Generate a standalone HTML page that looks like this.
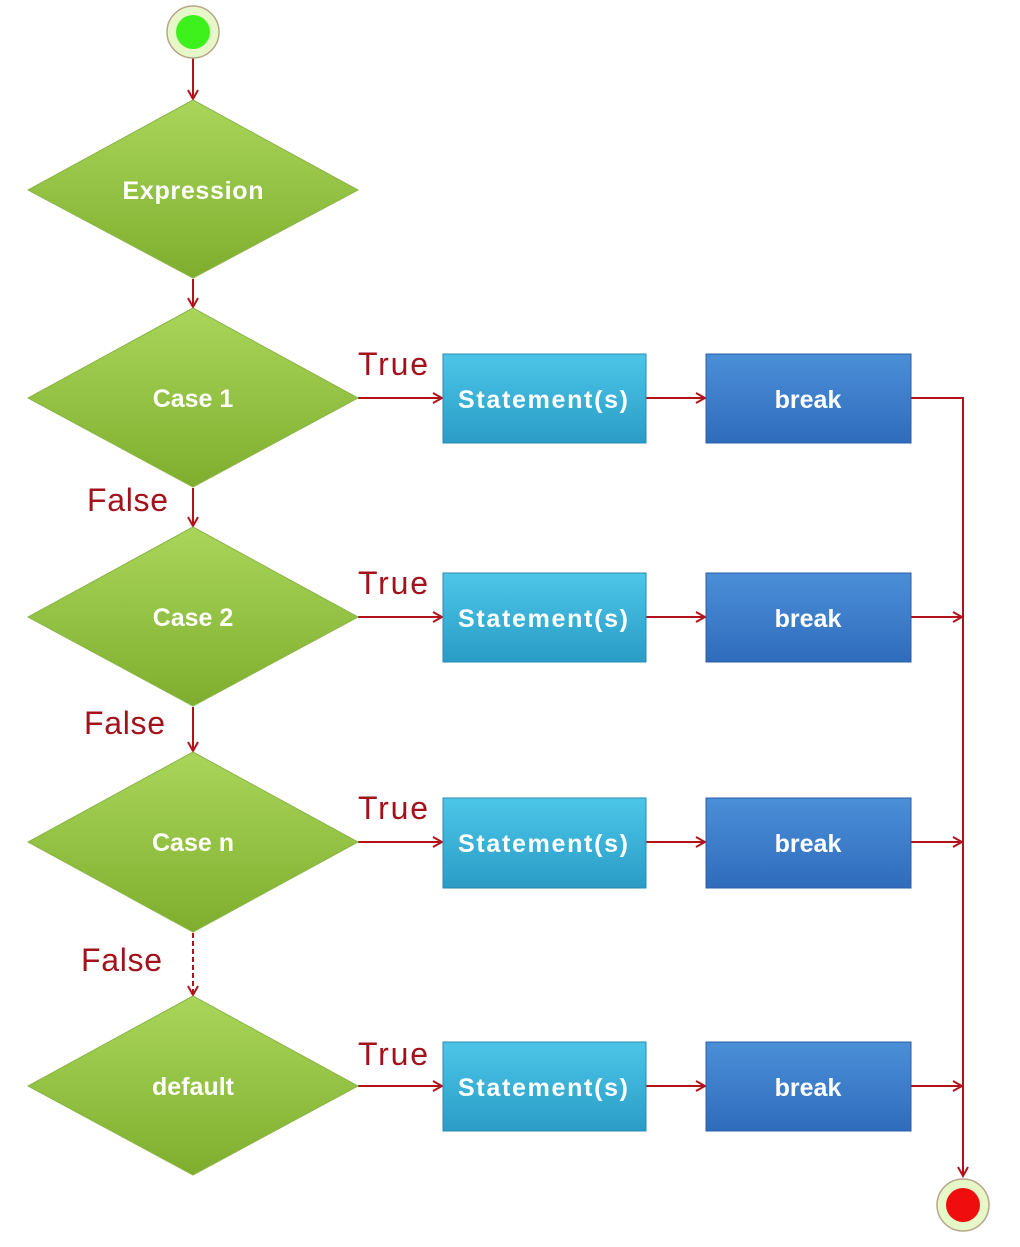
<!DOCTYPE html>
<html><head><meta charset="utf-8"><style>
html,body{margin:0;padding:0;background:#fff;}
svg{display:block;}
.t{font-family:"Liberation Sans",sans-serif;font-weight:bold;fill:#fff;font-size:25px;text-anchor:middle;}
.l{font-family:"Liberation Sans",sans-serif;fill:#a3121c;font-size:32px;}
</style></head><body>
<svg width="1020" height="1247" viewBox="0 0 1020 1247" xmlns="http://www.w3.org/2000/svg">
<defs>
<linearGradient id="g" x1="0" y1="0" x2="0" y2="1"><stop offset="0" stop-color="#a9d65a"/><stop offset="1" stop-color="#7fae2e"/></linearGradient>
<linearGradient id="c" x1="0" y1="0" x2="0" y2="1"><stop offset="0" stop-color="#4cc6e8"/><stop offset="1" stop-color="#2a9cc6"/></linearGradient>
<linearGradient id="b" x1="0" y1="0" x2="0" y2="1"><stop offset="0" stop-color="#4b8fd8"/><stop offset="1" stop-color="#2f6cbc"/></linearGradient>
<marker id="a" markerWidth="12" markerHeight="12" refX="10" refY="6" orient="auto" markerUnits="userSpaceOnUse"><path d="M1,1 L10,6 L1,11" fill="none" stroke="#b3121c" stroke-width="2"/></marker>
</defs>
<g stroke="#b3121c" stroke-width="2" fill="none">
<line x1="193" y1="58" x2="193" y2="99" marker-end="url(#a)"/>
<line x1="193" y1="279" x2="193" y2="307" marker-end="url(#a)"/>
<line x1="193" y1="488" x2="193" y2="526" marker-end="url(#a)"/>
<line x1="193" y1="707" x2="193" y2="751" marker-end="url(#a)"/>
<line x1="193" y1="933" x2="193" y2="995" stroke-dasharray="5,3" marker-end="url(#a)"/>
<line x1="358" y1="398" x2="442" y2="398" marker-end="url(#a)"/>
<line x1="358" y1="617" x2="442" y2="617" marker-end="url(#a)"/>
<line x1="358" y1="842" x2="442" y2="842" marker-end="url(#a)"/>
<line x1="358" y1="1086" x2="442" y2="1086" marker-end="url(#a)"/>
<line x1="646" y1="398" x2="705" y2="398" marker-end="url(#a)"/>
<line x1="646" y1="617" x2="705" y2="617" marker-end="url(#a)"/>
<line x1="646" y1="842" x2="705" y2="842" marker-end="url(#a)"/>
<line x1="646" y1="1086" x2="705" y2="1086" marker-end="url(#a)"/>
<polyline points="911,398 963,398 963,1176" marker-end="url(#a)"/>
<line x1="911" y1="617" x2="962" y2="617" marker-end="url(#a)"/>
<line x1="911" y1="842" x2="962" y2="842" marker-end="url(#a)"/>
<line x1="911" y1="1086" x2="962" y2="1086" marker-end="url(#a)"/>
</g>
<circle cx="193" cy="32" r="26" fill="#e6f7c8" stroke="#b9a58a" stroke-width="1.5"/>
<circle cx="193" cy="32" r="17" fill="#3ef01c"/>
<circle cx="963" cy="1205" r="26" fill="#e6f7c8" stroke="#b9a58a" stroke-width="1.5"/>
<circle cx="963" cy="1205" r="17" fill="#f00d0d"/>
<g fill="url(#g)" stroke="#8bb548" stroke-width="1">
<polygon points="193,100 358,190 193,278 28,190"/>
<polygon points="193,308 358,398 193,487 28,398"/>
<polygon points="193,527 358,617 193,706 28,617"/>
<polygon points="193,752 358,842 193,932 28,842"/>
<polygon points="193,996 358,1086 193,1175 28,1086"/>
</g>
<g fill="url(#c)" stroke="#2a8ab0" stroke-width="1">
<rect x="443" y="354" width="203" height="89"/>
<rect x="443" y="573" width="203" height="89"/>
<rect x="443" y="798" width="203" height="90"/>
<rect x="443" y="1042" width="203" height="89"/>
</g>
<g fill="url(#b)" stroke="#2a5ea8" stroke-width="1">
<rect x="706" y="354" width="205" height="89"/>
<rect x="706" y="573" width="205" height="89"/>
<rect x="706" y="798" width="205" height="90"/>
<rect x="706" y="1042" width="205" height="89"/>
</g>
<text class="t" x="193" y="199" textLength="141">Expression</text>
<text class="t" x="193" y="407">Case 1</text>
<text class="t" x="193" y="626">Case 2</text>
<text class="t" x="193" y="851">Case n</text>
<text class="t" x="193" y="1095">default</text>
<text class="t" x="543" y="408" font-size="27" textLength="170">Statement(s)</text>
<text class="t" x="543" y="627" font-size="27" textLength="170">Statement(s)</text>
<text class="t" x="543" y="852" font-size="27" textLength="170">Statement(s)</text>
<text class="t" x="543" y="1096" font-size="27" textLength="170">Statement(s)</text>
<text class="t" x="808" y="408" font-size="27">break</text>
<text class="t" x="808" y="627" font-size="27">break</text>
<text class="t" x="808" y="852" font-size="27">break</text>
<text class="t" x="808" y="1096" font-size="27">break</text>
<text class="l" x="358" y="375" textLength="70">True</text>
<text class="l" x="358" y="594" textLength="70">True</text>
<text class="l" x="358" y="819" textLength="70">True</text>
<text class="l" x="358" y="1065" textLength="70">True</text>
<text class="l" x="87" y="511" textLength="81">False</text>
<text class="l" x="84" y="734" textLength="81">False</text>
<text class="l" x="81" y="971" textLength="81">False</text>
</svg>
</body></html>
